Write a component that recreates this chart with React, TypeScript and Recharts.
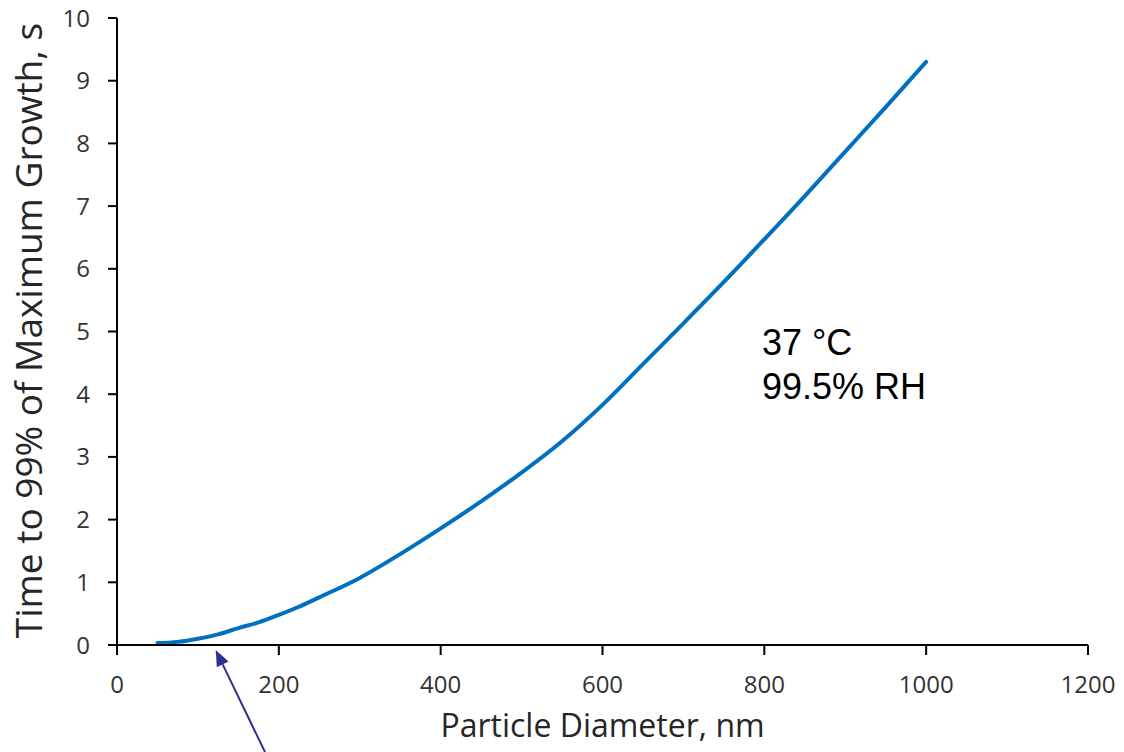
import { LineChart, Line, XAxis, YAxis, ReferenceLine, ReferenceDot } from 'recharts';

// particle diameter (nm) vs time to reach 99% of max growth (s)
const diameters = [50, 75, 100, 125, 150, 175, 200, 225, 250, 300, 350, 400, 450, 500, 550, 600, 650, 700, 750, 800, 850, 900, 950, 1000];
const times = [0.03, 0.05, 0.1, 0.17, 0.27, 0.36, 0.48, 0.61, 0.76, 1.07, 1.45, 1.86, 2.29, 2.75, 3.25, 3.83, 4.48, 5.13, 5.79, 6.47, 7.16, 7.87, 8.58, 9.3];

const xTicks = [0, 200, 400, 600, 800, 1000, 1200];
const yTicks = [0, 1, 2, 3, 4, 5, 6, 7, 8, 9, 10];

const xTitle = 'Particle Diameter, nm';
const yTitle = 'Time to 99% of Maximum Growth, s';

const conditionLines = ['37 °C', '99.5% RH'];
const conditionAt = { x: 797, y: 4.63 };

// arrow from below the axis up to the curve foot
const arrowTail = { x: 183, y: -1.71 };
const arrowTip = { x: 122, y: -0.08 };

const data = diameters.map((d, i) => ({ d, t: times[i] }));

const tickFont = { fontFamily: '"Open Sans", sans-serif', fontSize: 24, fill: '#333' };
const titleFont = { fontFamily: '"Open Sans", sans-serif', fontSize: 32, fill: '#262626' };

const Arrow = (props: any) => {
    const { x1, y1, x2, y2 } = props;
    const len = Math.hypot(x2 - x1, y2 - y1);
    const ux = (x2 - x1) / len;
    const uy = (y2 - y1) / len;
    const head = 16;
    const half = 6.5;
    const bx = x2 - ux * head;
    const by = y2 - uy * head;
    const pts = `${x2},${y2} ${bx - uy * half},${by + ux * half} ${bx + uy * half},${by - ux * half}`;
    return (
        <g>
            <line x1={x1} y1={y1} x2={bx} y2={by} stroke="#2E3192" strokeWidth={2} />
            <polygon points={pts} fill="#2E3192" />
        </g>
    );
};

const Conditions = (props: any) => {
    const { cx, cy } = props;
    return (
        <text x={cx} y={cy} fontFamily='"Liberation Sans", Arial, sans-serif' fontSize={36} fill="#000">
            {conditionLines.map((s, i) => (
                <tspan key={i} x={cx} y={cy + i * 44}>{s}</tspan>
            ))}
        </text>
    );
};

const YTitle = (props: any) => {
    const { viewBox } = props;
    const x = viewBox.x + 42;
    const y = viewBox.y + viewBox.height / 2 - 1;
    return (
        <text x={x} y={y} transform={`rotate(-90, ${x}, ${y})`} textAnchor="middle" {...titleFont} fontSize={37}>
            {yTitle}
        </text>
    );
};

export default function App() {
    return (
        <div style={{ position: 'absolute', left: 0, top: 0, background: '#fff' }}>
            <LineChart
                width={1124}
                height={752}
                data={data}
                margin={{ top: 18, right: 36, bottom: 0, left: 0 }}
            >
                <XAxis
                    dataKey="d"
                    type="number"
                    domain={[0, 1200]}
                    ticks={xTicks}
                    stroke="#000"
                    strokeWidth={2}
                    tickSize={10}
                    tickMargin={21}
                    tick={tickFont}
                    height={107}
                    label={{ value: xTitle, position: 'insideBottom', offset: 15, style: titleFont }}
                />
                <YAxis
                    type="number"
                    domain={[0, 10]}
                    ticks={yTicks}
                    stroke="#000"
                    strokeWidth={2}
                    tickSize={9}
                    tickMargin={18}
                    tick={tickFont}
                    width={117}
                    label={<YTitle />}
                />
                <Line
                    dataKey="t"
                    type="monotone"
                    stroke="#0070C0"
                    strokeWidth={4}
                    strokeLinecap="round"
                    dot={false}
                    isAnimationActive={false}
                />
                <ReferenceLine
                    segment={[arrowTail, arrowTip]}
                    ifOverflow="visible"
                    shape={Arrow}
                />
                <ReferenceDot
                    x={conditionAt.x}
                    y={conditionAt.y}
                    r={0}
                    ifOverflow="visible"
                    shape={Conditions}
                />
            </LineChart>
        </div>
    );
}
